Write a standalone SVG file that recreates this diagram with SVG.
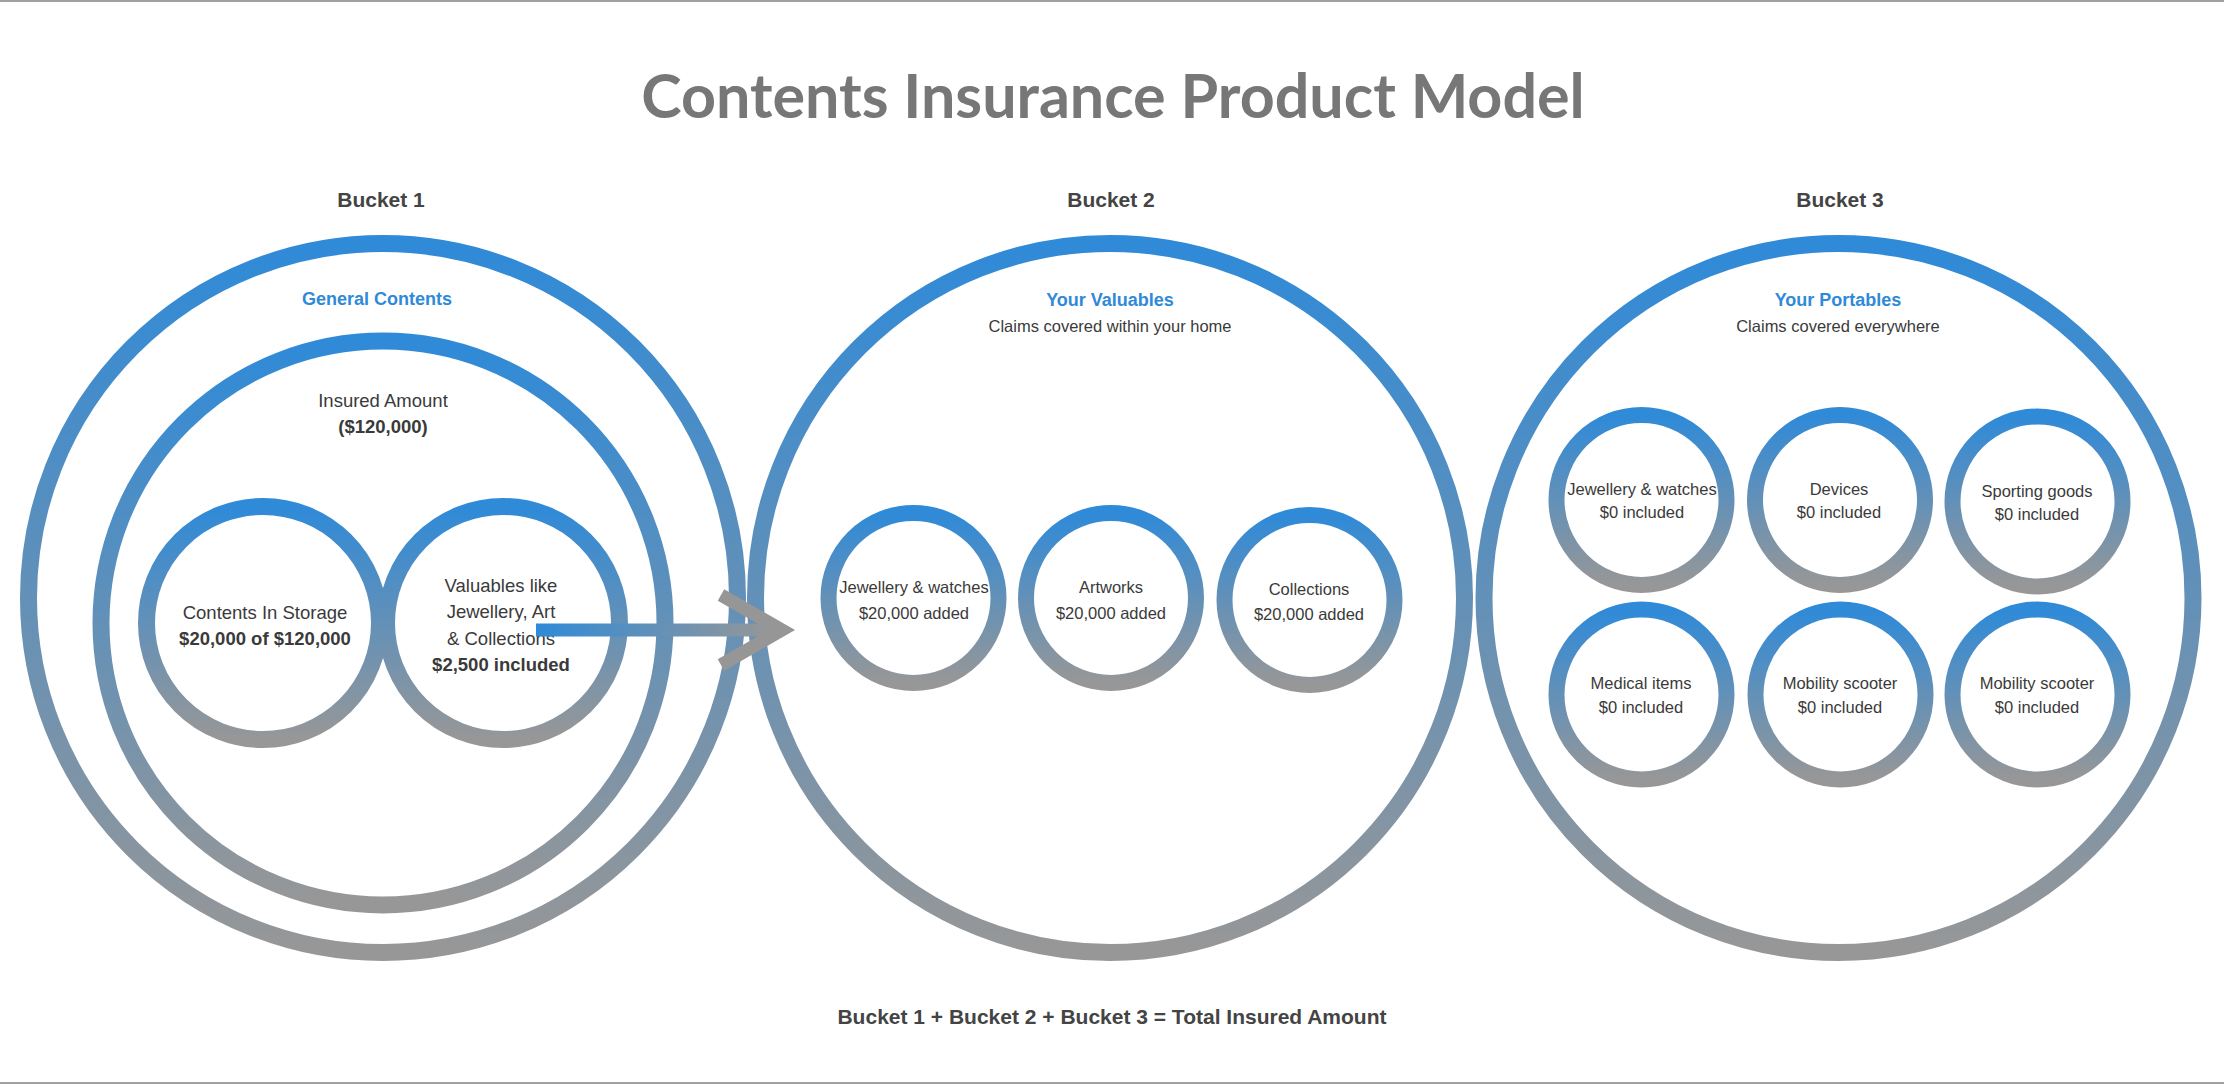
<svg xmlns="http://www.w3.org/2000/svg" width="2224" height="1084" viewBox="0 0 2224 1084">
<defs>
<linearGradient id="ring" x1="0" y1="0" x2="0" y2="1">
<stop offset="0" stop-color="#2f8ad8"/>
<stop offset="1" stop-color="#979797"/>
</linearGradient>
<linearGradient id="arrowGrad" gradientUnits="userSpaceOnUse" x1="536" y1="0" x2="775" y2="0">
<stop offset="0" stop-color="#2f8ad8"/>
<stop offset="1" stop-color="#979797"/>
</linearGradient>
<style>
.big{fill:none;stroke:url(#ring);stroke-width:17}
.mid{fill:none;stroke:url(#ring);stroke-width:16}
.t{font-family:"Liberation Sans",Arial,sans-serif;fill:#3a3a3a;text-anchor:middle}
.s18{font-size:18.5px}
.s16{font-size:16.5px}
.b{font-weight:bold}
.blue{fill:#2f8ad8;font-weight:bold;font-size:18px}
.head{font-family:"Liberation Sans",Arial,sans-serif;font-weight:bold;font-size:21px;fill:#444;text-anchor:middle}
.title{font-family:Lato,"Open Sans",sans-serif;font-weight:bold;font-size:61px;fill:#777;text-anchor:middle}
</style>
</defs>
<rect x="0" y="0" width="2224" height="1084" fill="#fff"/>
<rect x="0" y="0" width="2224" height="2" fill="#a0a0a0"/>
<rect x="0" y="1082" width="2224" height="2" fill="#a0a0a0"/>

<text class="title" x="1113" y="118">Contents Insurance Product Model</text>
<text class="head" x="381" y="207">Bucket 1</text>
<text class="head" x="1111" y="207">Bucket 2</text>
<text class="head" x="1840" y="207">Bucket 3</text>

<g id="bucket1">
<circle class="big" cx="383" cy="598" r="354.5"/>
<text class="t blue" x="377" y="305">General Contents</text>
</g>
<g id="insured-amount">
<circle class="big" cx="383" cy="623" r="282"/>
<text class="t s18" x="383" y="407">Insured Amount</text>
<text class="t s18 b" x="383" y="433">($120,000)</text>
</g>
<g id="contents-in-storage">
<circle class="big" cx="263" cy="623" r="116.5"/>
<text class="t s18" x="265" y="619">Contents In Storage</text>
<text class="t s18 b" x="265" y="645">$20,000 of $120,000</text>
</g>
<g id="valuables">
<circle class="big" cx="503" cy="623" r="116.5"/>
<text class="t s18" x="501" y="592">Valuables like</text>
<text class="t s18" x="501" y="618">Jewellery, Art</text>
<text class="t s18" x="501" y="645">&amp; Collections</text>
<text class="t s18 b" x="501" y="671">$2,500 included</text>
</g>

<g id="bucket2">
<circle class="big" cx="1110" cy="598" r="354.5"/>
<text class="t blue" x="1110" y="306">Your Valuables</text>
<text class="t s16" x="1110" y="332">Claims covered within your home</text>
</g>
<g id="b2-jewellery">
<circle class="mid" cx="913.5" cy="598" r="85"/>
<text class="t s16" x="914" y="593">Jewellery &amp; watches</text>
<text class="t s16" x="914" y="619">$20,000 added</text>
</g>
<g id="b2-artworks">
<circle class="mid" cx="1111" cy="598" r="85"/>
<text class="t s16" x="1111" y="593">Artworks</text>
<text class="t s16" x="1111" y="619">$20,000 added</text>
</g>
<g id="b2-collections">
<circle class="mid" cx="1309.5" cy="600" r="85"/>
<text class="t s16" x="1309" y="595">Collections</text>
<text class="t s16" x="1309" y="620">$20,000 added</text>
</g>

<g id="bucket3">
<circle class="big" cx="1838.5" cy="598" r="354.5"/>
<text class="t blue" x="1838" y="306">Your Portables</text>
<text class="t s16" x="1838" y="332">Claims covered everywhere</text>
</g>
<g id="b3-jewellery">
<circle class="mid" cx="1641.5" cy="500" r="85"/>
<text class="t s16" x="1642" y="495">Jewellery &amp; watches</text>
<text class="t s16" x="1642" y="518">$0 included</text>
</g>
<g id="b3-devices">
<circle class="mid" cx="1840" cy="500" r="85"/>
<text class="t s16" x="1839" y="495">Devices</text>
<text class="t s16" x="1839" y="518">$0 included</text>
</g>
<g id="b3-sporting">
<circle class="mid" cx="2037.5" cy="501.5" r="85"/>
<text class="t s16" x="2037" y="497">Sporting goods</text>
<text class="t s16" x="2037" y="520">$0 included</text>
</g>
<g id="b3-medical">
<circle class="mid" cx="1641.5" cy="694.5" r="85"/>
<text class="t s16" x="1641" y="689">Medical items</text>
<text class="t s16" x="1641" y="713">$0 included</text>
</g>
<g id="b3-mobility1">
<circle class="mid" cx="1840.5" cy="694.5" r="85"/>
<text class="t s16" x="1840" y="689">Mobility scooter</text>
<text class="t s16" x="1840" y="713">$0 included</text>
</g>
<g id="b3-mobility2">
<circle class="mid" cx="2037.5" cy="694.5" r="85"/>
<text class="t s16" x="2037" y="689">Mobility scooter</text>
<text class="t s16" x="2037" y="713">$0 included</text>
</g>

<g id="connectors">
<line x1="536" y1="630" x2="778" y2="630" stroke="url(#arrowGrad)" stroke-width="13"/>
<polyline points="721,595 782,630 721,665" fill="none" stroke="#969696" stroke-width="13" stroke-linejoin="miter" stroke-miterlimit="10"/>
</g>

<text class="head" x="1112" y="1024">Bucket 1 + Bucket 2 + Bucket 3 = Total Insured Amount</text>
</svg>
